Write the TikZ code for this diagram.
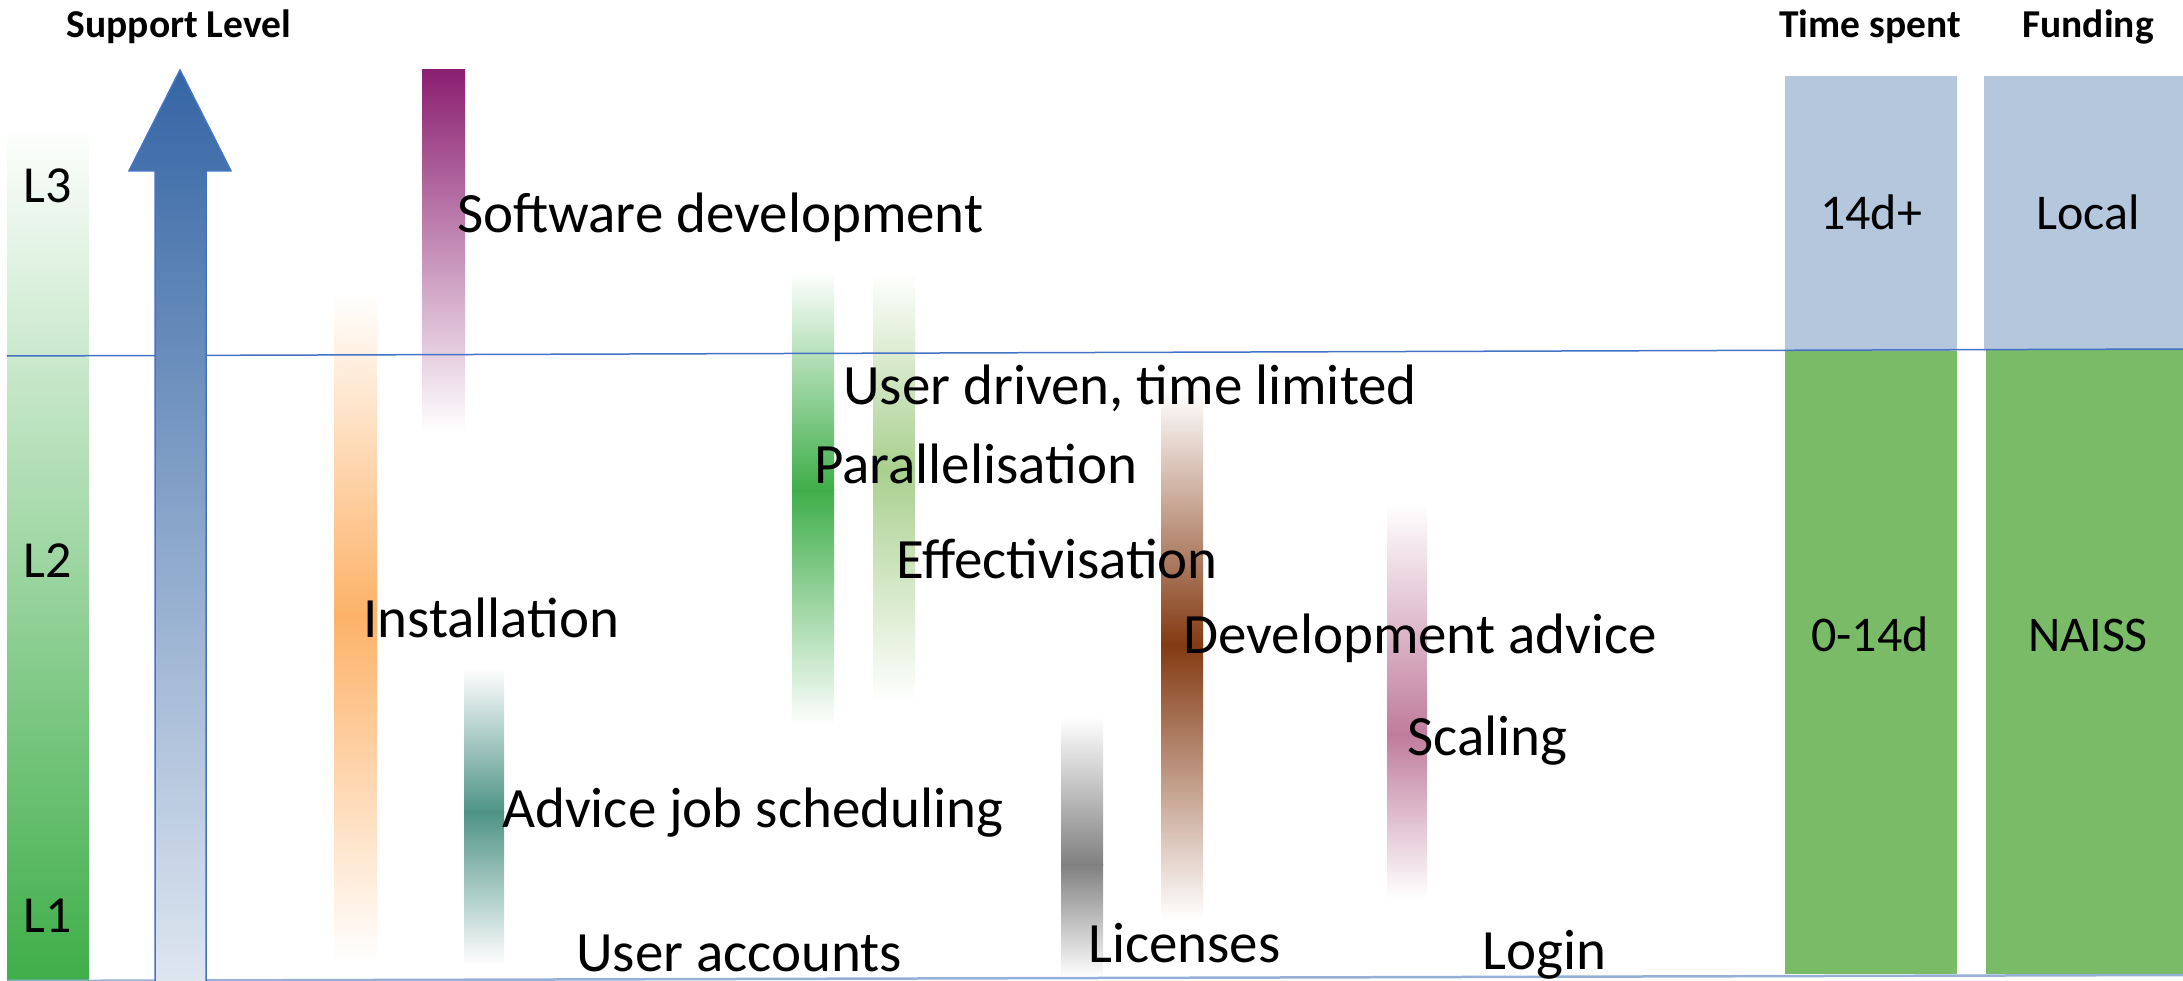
\documentclass[tikz,border=0pt]{standalone}
\usepackage{fontspec}
\setmainfont{Carlito}
\definecolor{lgreen}{RGB}{63,174,73}
\definecolor{arrowtop}{RGB}{52,101,164}
\definecolor{arrowbot}{RGB}{222,230,240}
\definecolor{lineblue}{RGB}{68,114,196}
\definecolor{botline}{RGB}{150,175,215}
\definecolor{cpurple}{RGB}{139,31,113}
\definecolor{corange}{RGB}{253,178,104}
\definecolor{cteal}{RGB}{78,147,135}
\definecolor{cgreenA}{RGB}{63,174,73}
\definecolor{cgreenB}{RGB}{169,208,142}
\definecolor{cbrown}{RGB}{131,58,18}
\definecolor{cgray}{RGB}{128,128,128}
\definecolor{cpink}{RGB}{192,124,156}
\definecolor{colblue}{RGB}{180,199,220}
\definecolor{colgreen}{RGB}{121,187,103}
\newcommand\fadebar[6]{%
  \shade[top color=white, bottom color=#6] (#1,#3) rectangle (#2,#4);
  \shade[top color=#6, bottom color=white] (#1,#4-0.5) rectangle (#2,#5);
}
\tikzset{
  lbl/.style={font=\fontsize{57}{61}\selectfont, inner sep=0pt},
  lvl/.style={font=\fontsize{52}{56}\selectfont, inner sep=0pt},
  val/.style={font=\fontsize{50}{54}\selectfont, inner sep=0pt},
  head/.style={font=\bfseries\fontsize{39.5}{43}\selectfont, inner sep=0pt},
}
\begin{document}
\begin{tikzpicture}[x=1pt,y=-1pt]
\useasboundingbox (0,0) rectangle (2183,981);
% level bar
\shade[top color=white, bottom color=lgreen] (7,123) rectangle (89,981);
% fading bars
\shade[top color=cpurple, bottom color=white] (422,70) rectangle (465,432);
\fadebar{334}{377}{292}{615}{962}{corange}
\fadebar{464}{504}{668}{812}{965}{cteal}
\fadebar{792}{834}{271}{490}{726}{cgreenA}
\fadebar{873}{915}{272}{470}{703}{cgreenB}
\fadebar{1161}{1203}{390}{645}{919}{cbrown}
\fadebar{1061}{1103}{717}{865}{978}{cgray}
\fadebar{1387}{1427}{504}{735}{898}{cpink}
% right columns
\fill[colblue] (1785,76) rectangle (1957,351);
\fill[colgreen] (1785,351) rectangle (1957,974);
\fill[colblue] (1984,76) rectangle (2183,350);
\fill[colgreen] (1986,350) rectangle (2183,974);
% divider lines
\coordinate (dl) at (7,356);
\coordinate (dr) at (2183,349);
\draw[lineblue, line width=1.5pt] (dl) -- (dr);
\coordinate (bl) at (7,981);
\coordinate (br) at (2183,975);
\draw[botline, line width=2.5pt] (bl) -- (br);
% support arrow
\shade[top color=arrowtop, bottom color=arrowbot]
  (155,981) -- (155,171) -- (129,171) -- (180,70) -- (231,171) -- (206,171) -- (206,981) -- cycle;
\draw[lineblue, line width=1.5pt, line join=miter]
  (155,981) -- (155,171) -- (129,171) -- (180,70) -- (231,171) -- (206,171) -- (206,981);
% headings
\node[head, anchor=base] (hsup) at (179,38) {Support Level};
\node[head, anchor=base] (htime) at (1870,38) {Time spent};
\node[head, anchor=base] (hfund) at (2088,38) {Funding};
% levels
\node[lvl, anchor=base] (l3) at (48,203) {L3};
\node[lvl, anchor=base] (l2) at (48,577) {L2};
\node[lvl, anchor=base] (l1) at (48,932) {L1};
% column values
\node[val, anchor=base] (t14p) at (1871,230) {14d+};
\node[val, anchor=base] (floc) at (2088,230) {Local};
\node[val, anchor=base] (t014) at (1870,651) {0-14d};
\node[val, anchor=base] (fnaiss) at (2088,651) {NAISS};
% labels
\node[lbl, anchor=base west] (sw) at (457,233) {Software development};
\node[lbl, anchor=base west] (ud) at (843,404) {User driven, time limited};
\node[lbl, anchor=base west] (par) at (814,483) {Parallelisation};
\node[lbl, anchor=base west] (eff) at (896,578) {Effectivisation};
\node[lbl, anchor=base west] (dev) at (1183,653) {Development advice};
\node[lbl, anchor=base west] (inst) at (363,637) {Installation};
\node[lbl, anchor=base west] (adv) at (502,827) {Advice job scheduling};
\node[lbl, anchor=base west] (scal) at (1407,755) {Scaling};
\node[lbl, anchor=base west] (ua) at (576,971) {User accounts};
\node[lbl, anchor=base west] (lic) at (1088,962) {Licenses};
\node[lbl, anchor=base west] (login) at (1482,969) {Login};
\end{tikzpicture}
\end{document}
